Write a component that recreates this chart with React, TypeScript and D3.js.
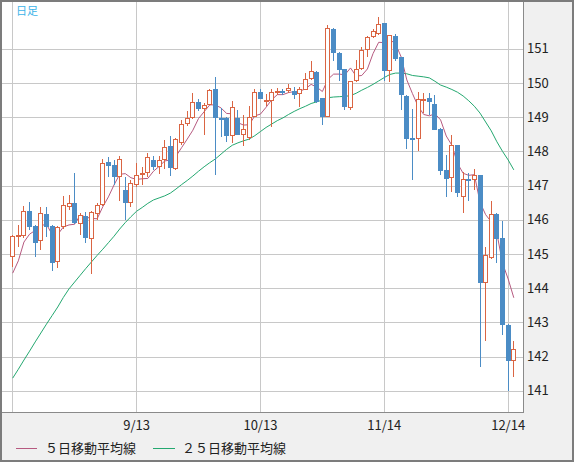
import React from 'react';
import * as d3 from 'd3';

// USD/JPY daily candles, 2023-08-14 .. 2023-12-15 (weekdays)
const startDay = new Date(2023, 7, 14);
const endDay = new Date(2023, 11, 16);

const open = [
  144.90, 145.52, 145.53, 146.25, 145.82, 145.37, 146.17, 145.82, 144.78, 145.78,
  146.36, 146.50, 145.88, 146.11, 145.45, 146.17, 146.42, 147.69, 147.60, 147.26,
  146.87, 146.50, 147.03, 147.32, 147.36, 147.75, 147.55, 147.75, 148.16, 147.50,
  148.24, 148.80, 148.98, 149.44, 149.23, 149.37, 149.81, 148.99, 148.98, 148.45,
  148.99, 148.47, 148.39, 149.02, 149.74, 149.46, 149.48, 149.72, 149.76, 149.76,
  149.78, 149.68, 149.80, 150.11, 150.32, 149.56, 149.02, 151.57, 150.89, 150.42,
  149.27, 150.05, 150.40, 150.96, 151.34, 151.43, 151.74, 150.36, 151.37, 150.77,
  149.62, 148.39, 148.37, 149.50, 149.56, 149.40, 148.66, 147.46, 147.22, 148.18,
  146.66, 147.18, 147.15, 147.30, 144.14, 144.87, 146.17, 145.47, 142.93, 141.88,
];
const high = [
  145.56, 145.85, 146.40, 146.52, 145.85, 146.36, 146.36, 145.85, 145.82, 146.71,
  146.72, 147.38, 146.19, 146.23, 146.25, 146.50, 147.77, 147.83, 147.75, 147.87,
  147.24, 147.16, 147.65, 147.53, 147.94, 147.87, 147.87, 148.33, 148.45, 148.40,
  148.92, 149.17, 149.72, 149.54, 149.41, 149.83, 150.18, 149.26, 149.00, 149.48,
  149.21, 149.07, 149.33, 149.83, 149.83, 149.68, 149.81, 149.85, 149.83, 149.97,
  149.89, 149.89, 150.30, 150.65, 150.34, 149.56, 151.69, 151.60, 150.90, 150.42,
  150.07, 150.67, 151.04, 151.36, 151.59, 151.94, 151.76, 151.41, 151.43, 150.77,
  149.64, 149.23, 149.74, 149.70, 149.70, 149.66, 148.68, 147.90, 148.47, 148.20,
  147.40, 147.36, 147.48, 147.32, 145.20, 146.56, 146.19, 145.96, 142.95, 142.45,
];
const low = [
  144.63, 145.21, 145.46, 145.70, 144.92, 145.12, 145.49, 144.51, 144.58, 145.74,
  146.29, 145.88, 145.56, 145.33, 144.41, 146.00, 146.40, 147.26, 147.03, 146.56,
  145.99, 146.36, 146.97, 147.01, 147.24, 147.46, 147.34, 147.50, 147.28, 147.46,
  148.20, 148.74, 148.96, 149.19, 148.49, 149.35, 147.30, 148.43, 148.27, 148.25,
  148.47, 148.16, 148.33, 149.00, 149.52, 149.33, 148.72, 149.66, 149.66, 149.70,
  149.54, 149.31, 149.79, 150.09, 149.41, 148.78, 149.00, 150.63, 150.07, 149.21,
  149.21, 150.03, 150.38, 150.77, 151.32, 151.41, 150.07, 150.03, 150.65, 149.21,
  148.08, 147.16, 148.00, 149.11, 149.07, 148.62, 147.30, 146.68, 146.81, 146.66,
  146.21, 146.56, 146.87, 141.71, 142.47, 144.85, 144.75, 142.64, 140.98, 141.41,
];
const close = [
  145.53, 145.56, 146.25, 145.80, 145.33, 146.19, 145.80, 144.75, 145.78, 146.42,
  146.48, 145.90, 146.13, 145.48, 146.23, 146.42, 147.65, 147.57, 147.24, 147.77,
  146.50, 147.07, 147.30, 147.36, 147.83, 147.55, 147.75, 148.12, 147.51, 148.37,
  148.80, 148.98, 149.44, 149.23, 149.35, 149.80, 148.99, 148.96, 148.45, 149.29,
  148.49, 148.65, 149.02, 149.74, 149.54, 149.50, 149.74, 149.78, 149.72, 149.85,
  149.66, 149.81, 150.13, 150.34, 149.44, 149.02, 151.61, 150.87, 150.38, 149.31,
  150.05, 150.40, 150.96, 151.34, 151.53, 151.72, 150.36, 151.39, 150.71, 149.64,
  148.37, 148.35, 149.52, 149.54, 149.44, 148.64, 147.44, 147.20, 148.18, 146.79,
  147.18, 147.15, 147.30, 144.14, 144.96, 146.17, 145.45, 142.91, 141.88, 142.21,
];
const ma5 = [
  144.44, 144.80, 145.35, 145.58, 145.69, 145.83, 145.87, 145.57, 145.57, 145.79,
  145.85, 145.87, 146.14, 146.08, 146.04, 146.03, 146.38, 146.67, 147.02, 147.33,
  147.35, 147.23, 147.18, 147.20, 147.21, 147.42, 147.56, 147.72, 147.75, 147.86,
  148.11, 148.36, 148.62, 148.96, 149.16, 149.36, 149.36, 149.27, 149.11, 149.10,
  148.84, 148.77, 148.78, 149.04, 149.09, 149.29, 149.51, 149.66, 149.66, 149.72,
  149.75, 149.76, 149.83, 149.96, 149.88, 149.75, 150.11, 150.26, 150.26, 150.24,
  150.44, 150.20, 150.22, 150.41, 150.86, 151.19, 151.18, 151.27, 151.14, 150.76,
  150.09, 149.69, 149.32, 149.08, 149.04, 149.10, 148.92, 148.45, 148.18, 147.65,
  147.36, 147.30, 147.32, 146.51, 146.15, 145.94, 145.60, 144.73, 144.27, 143.72,
];
const ma25 = [
  141.37, 141.63, 141.90, 142.16, 142.43, 142.69, 142.95, 143.20, 143.45, 143.73,
  143.98, 144.18, 144.38, 144.58, 144.77, 144.96, 145.14, 145.33, 145.52, 145.73,
  145.92, 146.09, 146.25, 146.36, 146.48, 146.58, 146.64, 146.70, 146.78, 146.90,
  147.03, 147.15, 147.28, 147.42, 147.55, 147.67, 147.78, 147.92, 148.06, 148.18,
  148.25, 148.31, 148.36, 148.46, 148.58, 148.70, 148.80, 148.90, 148.98, 149.08,
  149.17, 149.25, 149.32, 149.40, 149.45, 149.50, 149.57, 149.59, 149.60, 149.61,
  149.63, 149.70, 149.79, 149.87, 149.96, 150.06, 150.16, 150.25, 150.29, 150.29,
  150.27, 150.22, 150.20, 150.18, 150.15, 150.05, 149.94, 149.88, 149.81, 149.73,
  149.62, 149.48, 149.32, 149.12, 148.86, 148.60, 148.28, 148.00, 147.75, 147.46,
];

const yTicks = [141, 142, 143, 144, 145, 146, 147, 148, 149, 150, 151];
const xTickLabels = ['8/14', '9/13', '10/13', '11/14', '12/14'];

const UP = '#da6543';
const DOWN = '#4b8cc5';
const MA5_COLOR = '#b65a80';
const MA25_COLOR = '#24a870';
const GRID = '#c8c8c8';
const FONT = '"Noto Sans CJK JP", "Noto Sans", sans-serif';

const W = 574;
const H = 462;
const plot = { left: 2, top: 2, right: 523, bottom: 412 };

export default function App() {
  const fmt = d3.timeFormat('%-m/%-d');
  const dates = d3.timeDays(startDay, endDay).filter(d => d.getDay() % 6 !== 0);
  const keys = dates.map(fmt);

  const x = d3.scalePoint<string>().domain(keys).range([12.7, 513.8]);
  const y = d3.scaleLinear().domain([141, 151]).range([390.8, 48.8]);

  const px = (k: string) => Math.floor(x(k) as number) + 0.5;

  const lineGen = (vals: number[]) =>
    d3.line<number>()
      .x((_, i) => x(keys[i]) as number)
      .y(v => y(v))(vals) || '';

  return (
    <div style={{ position: 'absolute', left: 0, top: 0 }}>
      <svg width={W} height={H} style={{ display: 'block' }}>
        {/* outer frame */}
        <rect x={1} y={1} width={W - 2} height={H - 2} fill="#f0f0f0" stroke="#7c7c7c" strokeWidth={2} />
        <rect x={plot.left} y={plot.top} width={plot.right - plot.left} height={plot.bottom - plot.top} fill="#fff" />
        <line x1={plot.right + 0.5} x2={plot.right + 0.5} y1={plot.top} y2={plot.bottom + 1} stroke="#8a8a8a" />
        <line x1={plot.left} x2={plot.right + 1} y1={plot.bottom + 0.5} y2={plot.bottom + 0.5} stroke="#8a8a8a" />

        {/* grid */}
        {yTicks.map(t => (
          <line key={'h' + t} x1={plot.left} x2={plot.right} y1={Math.round(y(t)) + 0.5} y2={Math.round(y(t)) + 0.5} stroke={GRID} />
        ))}
        {xTickLabels.map(t => (
          <line key={'v' + t} x1={px(t)} x2={px(t)} y1={plot.top} y2={plot.bottom} stroke={GRID} />
        ))}

        {/* moving averages */}
        <path d={lineGen(ma25)} fill="none" stroke={MA25_COLOR} strokeWidth={1} />
        <path d={lineGen(ma5)} fill="none" stroke={MA5_COLOR} strokeWidth={1} />

        {/* candles */}
        {keys.map((k, i) => {
          const cx = px(k);
          const up = close[i] >= open[i];
          const yo = y(open[i]);
          const yc = y(close[i]);
          const top = Math.round(Math.min(yo, yc));
          const bot = Math.round(Math.max(yo, yc));
          const yh = Math.round(y(high[i]));
          const yl = Math.round(y(low[i]));
          if (up) {
            if (bot - top < 2) {
              return (
                <g key={k}>
                  <line x1={cx} x2={cx} y1={yh} y2={yl} stroke={UP} />
                  <rect x={cx - 2.5} y={top} width={5} height={2} fill={UP} />
                </g>
              );
            }
            return (
              <g key={k}>
                <line x1={cx} x2={cx} y1={yh} y2={top} stroke={UP} />
                <line x1={cx} x2={cx} y1={bot} y2={yl} stroke={UP} />
                <rect x={cx - 2} y={top + 0.5} width={4} height={bot - top - 1} fill="#fff" stroke={UP} />
              </g>
            );
          }
          return (
            <g key={k}>
              <line x1={cx} x2={cx} y1={yh} y2={yl} stroke={DOWN} />
              <rect x={cx - 2.5} y={top} width={5} height={Math.max(bot - top, 2)} fill={DOWN} />
            </g>
          );
        })}

        {/* y axis labels */}
        {yTicks.map(t => (
          <text key={'yl' + t} x={527} y={y(t)} dy="0.36em" fontSize={13} fontFamily={FONT} fill="#222">{t}</text>
        ))}

        {/* x axis labels */}
        {xTickLabels.map(t => {
          const cx = x(t) as number;
          if (cx - 15 < plot.left) return null;
          return (
            <text key={'xl' + t} x={cx} y={430} textAnchor="middle" fontSize={13} fontFamily={FONT} fill="#222">{t}</text>
          );
        })}

        <text x={16} y={15} fontSize={11} fontFamily={FONT} fill="#3cb3e8">日足</text>

        {/* legend */}
        <line x1={16} x2={37} y1={448.5} y2={448.5} stroke={MA5_COLOR} />
        <text x={45} y={453} fontSize={13} fontFamily={FONT} fill="#222">５日移動平均線</text>
        <line x1={153} x2={175} y1={448.5} y2={448.5} stroke={MA25_COLOR} />
        <text x={182} y={453} fontSize={13} fontFamily={FONT} fill="#222">２５日移動平均線</text>
      </svg>
    </div>
  );
}
